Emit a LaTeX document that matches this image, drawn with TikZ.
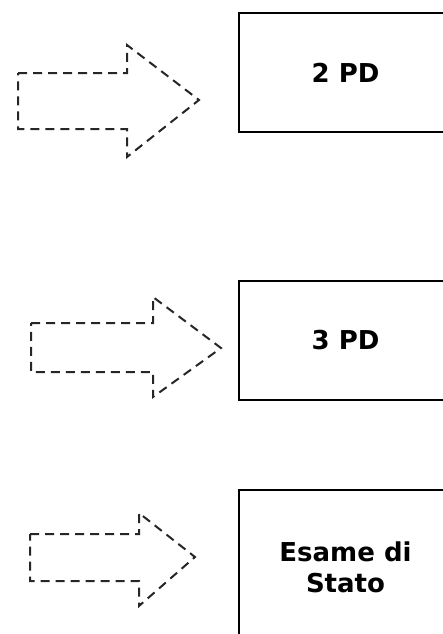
\documentclass[tikz,border=0pt]{standalone}
\usepackage{fontspec}
\setmainfont{DejaVu Sans}
\usepackage{tikz}
\usetikzlibrary{positioning}

\tikzset{
  pdbox/.style = {draw, line width = 2.4pt, minimum width = 213pt, align = center,
                  font = \fontsize{26}{31}\selectfont\bfseries},
  hollowarrow/.style = {draw = black!85, line width = 2pt, dash pattern = on 9pt off 6pt}
}

\begin{document}
\begin{tikzpicture} [x = 1pt, y = -1pt]
    \useasboundingbox (0,0) rectangle (443,634);
    \clip (0,0) rectangle (443,634);
    % boxes
    \node [pdbox, minimum height = 119pt] (pdtwo) at (345.5,72.5) {2 PD};
    \node [pdbox, minimum height = 119pt] (pdthree) at (345.5,340.5) {3 PD};
    \node [pdbox, minimum height = 154pt] (esame) at (345.5,567) {Esame di\\Stato};
    % arrows
    \draw [hollowarrow] (18,73)--(127,73)--(127,45)--(199,100)--(127,157)--(127,129)--(18,129)--cycle;
    \draw [hollowarrow] (31,323)--(153,323)--(153,297)--(221,348)--(153,397)--(153,372)--(31,372)--cycle;
    \draw [hollowarrow] (30,534)--(139,534)--(139,513)--(195,557)--(139,606)--(139,581)--(30,581)--cycle;
  \end{tikzpicture}
\end{document}
